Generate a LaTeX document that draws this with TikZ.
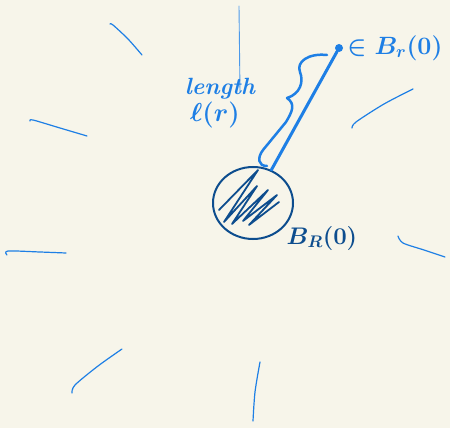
\RequirePackage{fix-cm}
\documentclass[tikz,border=0pt]{standalone}
\usepackage{amsmath}
\usepackage{xcolor}
\usepackage{tikz}
\usetikzlibrary{positioning, shapes.geometric, calc}

\definecolor{paper}{HTML}{F7F5EA}
\definecolor{inklight}{HTML}{1E7FE5}
\definecolor{inkdark}{HTML}{0D4D8E}

\begin{document}
\begin{tikzpicture}[x=1pt, y=-1pt,
    ink/.style={draw=inklight, line width=#1, line cap=round, line join=round},
    ink/.default=1.2pt,
    hand/.style={font=\fontsize{#1}{#1}\selectfont\itshape\bfseries\boldmath, text=inklight, inner sep=1pt},
    hand/.default=22,
]

% --- paper ---
\fill[paper] (0,0) rectangle (450,428);
\useasboundingbox (0,0) rectangle (450,428);

% --- strokes round the ball ---
\draw[ink=0.9pt, draw=inklight!80] (239,6) -- (240,92);
\draw[ink] plot[smooth] coordinates {(110,24) (113,25) (128,39) (142,55)};
\draw[ink] plot[smooth] coordinates {(30,121) (33,120) (60,128) (87,136)};
\draw[ink] plot[smooth] coordinates {(7,255) (8,251) (40,252) (66,253)};
\draw[ink] plot[smooth] coordinates {(72,393) (75,385) (98,366) (122,349)};
\draw[ink] plot[smooth] coordinates {(253,421) (255,392) (260,362)};
\draw[ink] plot[smooth] coordinates {(398,236) (403,243) (424,250) (445,257)};
\draw[ink] plot[smooth] coordinates {(352,128) (356,122) (384,104) (413,89)};

% --- ball B_R(0) ---
\node[ellipse, draw=inkdark, line width=2pt, minimum width=80, minimum height=72, inner sep=0] (ball) at (253,203) {};
\draw[ink=1.8pt, draw=inkdark] plot coordinates {(219,210) (258,170) (224,222) (257,186) (232,224) (268,190) (243,221) (277,195) (249,225) (279,202)};
\node[hand=24, text=inkdark] (balllbl) at (322,238) {$B_R(0)$};

% --- point and path ---
\node[circle, fill=inklight, inner sep=0, minimum size=8] (pt) at (339,48) {};
\node[hand=25, right=3pt of pt] (ptlbl) {$\in B_r(0)$};
\draw[ink=3pt] (pt) -- (ball);

% --- brace with length ---
\draw[ink=2.5pt] (327,55) .. controls (308,53) and (296,62) .. (300,72)
    .. controls (304,82) and (300,94) .. (287,98)
    .. controls (296,104) and (292,112) .. (286,122)
    -- (263,150) .. controls (257,158) and (258,166) .. (267,166);
\node[hand=23.5] (len) at (220,89) {length};
\node[hand=26, below=0pt of len, xshift=-5pt] (lenval) {$\ell(r)$};

\end{tikzpicture}
\end{document}
